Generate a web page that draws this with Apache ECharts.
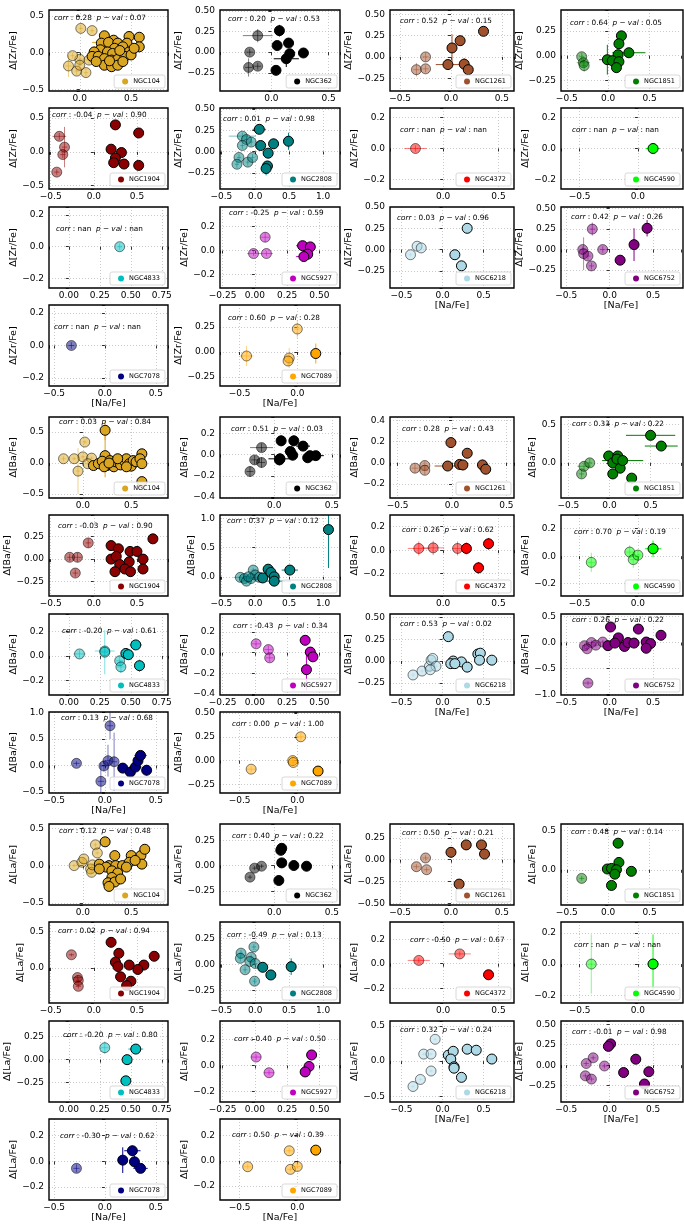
<!DOCTYPE html>
<html><head><meta charset="utf-8">
<script src="https://cdn.jsdelivr.net/npm/echarts@6.0.0/dist/echarts.min.js"></script>
<style>html,body{margin:0;padding:0;background:#fff}#c{width:684px;height:1229px}</style>
</head><body><div id="c"></div><script>
// ---------------- categories ----------------
const clusters = ['NGC104','NGC362','NGC1261','NGC1851','NGC1904','NGC2808','NGC4372','NGC4590','NGC4833','NGC5927','NGC6218','NGC6752','NGC7078','NGC7089'];
const clusterColors = ['#DAA520','#000000','#A0522D','#008000','#8B0000','#008080','#FF0000','#00FF00','#00BFBF','#BF00BF','#ADD8E6','#800080','#000080','#FFA500'];
const elementLabels = ['Δ[Zr/Fe]','Δ[Ba/Fe]','Δ[La/Fe]'];
const xLabel = '[Na/Fe]';

// ---------------- statistics text ----------------
const zrCorr = ['0.28','0.20','0.52','0.64','-0.04','0.01','nan','nan','nan','-0.25','0.03','0.42','nan','0.60'];
const zrPval = ['0.07','0.53','0.15','0.05','0.90','0.98','nan','nan','nan','0.59','0.96','0.26','nan','0.28'];
const baCorr = ['0.03','0.51','0.28','0.33','-0.03','0.37','0.26','0.70','-0.20','-0.43','0.53','0.26','0.13','0.00'];
const baPval = ['0.84','0.03','0.43','0.22','0.90','0.12','0.62','0.19','0.61','0.34','0.02','0.22','0.68','1.00'];
const laCorr = ['0.12','0.40','0.50','0.48','0.02','-0.49','-0.50','nan','-0.20','0.40','0.32','-0.01','-0.30','0.50'];
const laPval = ['0.48','0.22','0.21','0.14','0.94','0.13','0.67','nan','0.80','0.50','0.24','0.98','0.62','0.39'];

// ---------------- axis ranges and tick steps ----------------
const zrXlim = [[-0.30,0.86],[-0.45,0.60],[-0.60,0.62],[-0.57,0.88],[-0.52,0.86],[-0.52,1.25],[-0.48,0.64],[-0.66,0.37],[-0.16,0.80],[-0.27,0.66],[-0.64,0.87],[-0.56,0.82],[-0.55,0.62],[-0.67,0.37]];
const baXlim = [[-0.35,0.88],[-0.47,0.57],[-0.57,0.57],[-0.59,0.87],[-0.52,0.86],[-0.52,1.25],[-0.48,0.64],[-0.66,0.37],[-0.16,0.80],[-0.27,0.66],[-0.64,0.87],[-0.56,0.82],[-0.55,0.62],[-0.67,0.37]];
const laXlim = [[-0.35,0.88],[-0.47,0.57],[-0.60,0.62],[-0.57,0.88],[-0.52,0.86],[-0.52,1.25],[-0.48,0.64],[-0.66,0.37],[-0.16,0.80],[-0.27,0.66],[-0.64,0.87],[-0.56,0.82],[-0.55,0.62],[-0.67,0.37]];
const xStep = [0.5,0.5,0.5,0.5,0.5,0.5,0.5,0.5,0.25,0.25,0.5,0.5,0.5,0.5];
const zrYlim = [[-0.52,0.58],[-0.47,0.51],[-0.40,0.55],[-0.355,0.46],[-0.55,0.65],[-0.44,0.51],[-0.26,0.26],[-0.26,0.26],[-0.26,0.25],[-0.31,0.36],[-0.45,0.50],[-0.47,0.52],[-0.25,0.25],[-0.34,0.47]];
const zrYstep = [0.5,0.25,0.25,0.25,0.5,0.25,0.2,0.2,0.2,0.2,0.25,0.25,0.2,0.25];
const baYlim = [[-0.565,0.745],[-0.41,0.355],[-0.33,0.43],[-0.46,0.60],[-0.41,0.49],[-0.33,1.06],[-0.39,0.30],[-0.29,0.30],[-0.32,0.343],[-0.41,0.375],[-0.39,0.54],[-1.01,0.55],[-0.52,1.01],[-0.34,0.51]];
const baYstep = [0.5,0.2,0.2,0.5,0.25,0.5,0.2,0.2,0.2,0.2,0.25,0.5,0.5,0.25];
const laYlim = [[-0.53,0.56],[-0.39,0.41],[-0.52,0.41],[-0.45,0.585],[-0.477,0.627],[-0.37,0.41],[-0.32,0.34],[-0.25,0.27],[-0.46,0.42],[-0.28,0.34],[-0.58,0.57],[-0.45,0.54],[-0.30,0.33],[-0.31,0.33]];
const laYstep = [0.5,0.25,0.25,0.5,0.5,0.25,0.2,0.2,0.25,0.2,0.5,0.25,0.2,0.2];

// ---------------- data: [Na/Fe], delta, err Na, err delta ----------------
// a = first-generation (faded), b = second-generation (solid)
const zr104a = [[0.01,0.33,0.02,0.03],[0.12,0.30,0.02,0.03],[-0.11,-0.18,0.03,0.15],[-0.03,-0.25,0.02,0.05],[0.06,-0.27,0.02,0.05],[0.00,-0.09,0.03,0.08],[0.00,-0.17,0.02,0.06],[0.09,-0.10,0.03,0.05],[-0.07,-0.04,0.02,0.04]];
const zr104b = [[0.24,0.23,0.03,0.04],[0.48,0.22,0.04,0.05],[0.58,0.21,0.03,0.04],[0.58,0.08,0.03,0.04],[0.33,0.17,0.03,0.03],[0.21,0.13,0.03,0.03],[0.28,0.14,0.16,0.03],[0.37,0.13,0.03,0.03],[0.46,0.13,0.03,0.03],[0.34,0.06,0.03,0.03],[0.42,0.08,0.03,0.03],[0.20,0.04,0.03,0.03],[0.14,0.01,0.03,0.08],[0.27,0.01,0.03,0.03],[0.32,-0.01,0.03,0.03],[0.41,-0.01,0.03,0.03],[0.48,0.01,0.03,0.03],[0.12,-0.05,0.03,0.03],[0.18,-0.05,0.03,0.03],[0.24,-0.08,0.03,0.03],[0.31,-0.10,0.03,0.03],[0.37,-0.09,0.03,0.03],[0.44,-0.05,0.03,0.03],[0.50,-0.03,0.03,0.03],[0.24,-0.17,0.03,0.03],[0.31,-0.19,0.03,0.03],[0.37,-0.17,0.03,0.03],[0.29,-0.11,0.03,0.03],[0.16,-0.12,0.03,0.03],[0.42,-0.12,0.03,0.03],[0.53,0.06,0.03,0.03],[0.39,0.03,0.03,0.03]];
const zr362a = [[-0.12,0.20,0.13,0.08],[-0.19,0.00,0.03,0.04],[-0.20,-0.185,0.03,0.11],[-0.12,-0.17,0.03,0.04]];
const zr362b = [[0.07,0.26,0.03,0.07],[0.05,0.08,0.03,0.04],[0.15,0.11,0.03,0.04],[0.28,-0.01,0.04,0.04],[0.16,-0.02,0.03,0.04],[0.13,-0.08,0.11,0.10],[0.04,-0.22,0.03,0.04]];
const zr1261a = [[-0.34,-0.15,0.03,0.08],[-0.25,-0.14,0.03,0.04],[-0.25,0.00,0.03,0.05]];
const zr1261b = [[0.32,0.30,0.04,0.03],[0.09,0.19,0.03,0.04],[0.01,0.105,0.03,0.16],[-0.03,-0.09,0.12,0.04],[0.13,-0.085,0.03,0.07],[0.17,-0.15,0.03,0.04]];
const zr1851a = [[-0.32,-0.01,0.03,0.04],[-0.30,-0.07,0.08,0.04],[-0.29,-0.10,0.03,0.06]];
const zr1851b = [[0.16,0.20,0.03,0.04],[0.13,0.12,0.03,0.05],[0.25,0.03,0.20,0.05],[0.12,0.01,0.03,0.05],[-0.01,-0.04,0.10,0.15],[0.05,-0.05,0.03,0.04],[0.13,-0.06,0.03,0.04],[0.10,-0.12,0.03,0.04]];
const zr1904a = [[-0.40,0.23,0.08,0.05],[-0.34,0.07,0.03,0.30],[-0.36,-0.04,0.03,0.05],[-0.43,-0.30,0.03,0.04]];
const zr1904b = [[0.25,0.40,0.03,0.04],[0.52,0.28,0.03,0.04],[0.20,0.04,0.03,0.04],[0.32,-0.01,0.03,0.04],[0.25,-0.09,0.03,0.04],[0.23,-0.16,0.03,0.04],[0.35,-0.18,0.03,0.04],[0.52,-0.20,0.03,0.04]];
const zr2808a = [[-0.19,0.18,0.20,0.04],[-0.13,0.14,0.03,0.04],[-0.06,0.11,0.03,0.04],[-0.19,0.07,0.03,0.04],[-0.24,-0.07,0.03,0.04],[-0.27,-0.15,0.03,0.04],[-0.11,-0.125,0.03,0.04],[-0.04,-0.07,0.03,0.04]];
const zr2808b = [[0.06,0.26,0.10,0.04],[0.08,0.07,0.03,0.04],[0.27,0.09,0.05,0.06],[0.49,0.12,0.03,0.10],[0.19,-0.02,0.03,0.05],[0.18,-0.17,0.03,0.05],[0.16,-0.20,0.03,0.08]];
const zr4372a = [[-0.25,0.00,0.10,0.02]];
const zr4372b = [];
const zr4590a = [];
const zr4590b = [[0.13,0.00,0.06,0.02]];
const zr4833a = [[0.41,0.00,0.02,0.02]];
const zr4833b = [];
const zr5927a = [[0.08,0.11,0.03,0.04],[-0.01,-0.025,0.05,0.02],[0.09,-0.025,0.05,0.02]];
const zr5927b = [[0.37,0.04,0.05,0.03],[0.43,0.03,0.03,0.03],[0.41,-0.03,0.03,0.03],[0.38,-0.05,0.06,0.03]];
const zr6218a = [[-0.39,-0.06,0.02,0.02],[-0.31,0.04,0.02,0.02],[-0.26,0.02,0.02,0.02]];
const zr6218b = [[0.30,0.25,0.02,0.02],[0.15,-0.06,0.02,0.02],[0.23,-0.19,0.02,0.02]];
const zr6752a = [[-0.20,0.25,0.03,0.08],[-0.31,0.00,0.03,0.04],[-0.30,-0.05,0.03,0.20],[-0.25,-0.08,0.03,0.04],[-0.21,-0.20,0.03,0.04],[-0.08,0.00,0.03,0.04]];
const zr6752b = [[0.12,-0.13,0.03,0.03],[0.28,0.06,0.03,0.20],[0.43,0.26,0.03,0.10]];
const zr7078a = [[-0.33,0.00,0.03,0.02]];
const zr7078b = [];
const zr7089a = [[-0.44,-0.04,0.06,0.10],[0.00,0.23,0.03,0.09],[-0.07,-0.06,0.03,0.10],[-0.08,-0.09,0.03,0.05]];
const zr7089b = [[0.16,-0.015,0.03,0.10]];

const ba104a = [[0.02,0.34,0.02,0.03],[-0.20,0.07,0.02,0.04],[-0.05,-0.13,0.02,0.37],[0.00,0.10,0.02,0.03],[0.09,0.08,0.02,0.03],[0.05,-0.01,0.02,0.03],[-0.09,0.07,0.02,0.03]];
const ba104b = [[0.23,0.53,0.02,0.16],[0.23,0.12,0.02,0.35],[0.61,0.15,0.02,0.03],[0.61,-0.30,0.02,0.03],[0.11,-0.04,0.02,0.03],[0.16,-0.01,0.02,0.03],[0.20,0.03,0.02,0.03],[0.25,-0.04,0.02,0.03],[0.28,0.04,0.02,0.03],[0.32,-0.06,0.02,0.03],[0.34,0.02,0.02,0.03],[0.39,-0.03,0.02,0.03],[0.43,0.03,0.02,0.03],[0.45,0.07,0.02,0.03],[0.48,-0.01,0.02,0.03],[0.50,-0.05,0.02,0.03],[0.52,0.04,0.02,0.03],[0.55,0.02,0.02,0.03],[0.59,0.07,0.02,0.03],[0.61,-0.01,0.04,0.03],[0.22,-0.06,0.02,0.03],[0.36,0.07,0.02,0.03],[0.45,-0.06,0.02,0.03],[0.27,0.00,0.02,0.03]];
const ba362a = [[-0.11,0.066,0.10,0.04],[-0.17,-0.05,0.03,0.04],[-0.11,-0.075,0.03,0.05],[-0.21,-0.16,0.03,0.05]];
const ba362b = [[0.06,0.13,0.03,0.05],[0.17,0.13,0.03,0.05],[0.25,0.08,0.06,0.04],[0.14,0.03,0.05,0.04],[0.05,-0.04,0.10,0.05],[0.16,-0.006,0.03,0.04],[0.31,-0.01,0.03,0.04],[0.36,-0.01,0.07,0.04],[0.29,-0.03,0.03,0.04],[0.045,-0.05,0.03,0.05]];
const ba1261a = [[-0.34,-0.05,0.03,0.04],[-0.25,-0.025,0.03,0.04],[-0.25,-0.07,0.03,0.04]];
const ba1261b = [[-0.01,0.19,0.03,0.03],[0.14,0.09,0.03,0.04],[-0.04,-0.03,0.12,0.04],[0.07,-0.015,0.03,0.05],[0.10,-0.02,0.03,0.05],[0.28,-0.02,0.03,0.05],[0.31,-0.06,0.03,0.04]];
const ba1851a = [[-0.34,-0.145,0.03,0.05],[-0.31,-0.045,0.08,0.05],[-0.24,0.00,0.03,0.05]];
const ba1851b = [[0.50,0.36,0.30,0.05],[0.63,0.22,0.20,0.05],[-0.01,0.09,0.03,0.05],[0.04,0.00,0.03,0.05],[0.10,0.09,0.03,0.05],[0.13,-0.07,0.03,0.05],[0.04,-0.145,0.03,0.05],[0.27,-0.20,0.03,0.05],[0.09,0.05,0.03,0.05],[0.16,0.03,0.25,0.05]];
const ba1904a = [[-0.065,0.18,0.03,0.05],[-0.28,0.02,0.03,0.04],[-0.19,0.02,0.05,0.05],[-0.215,-0.155,0.03,0.04]];
const ba1904b = [[0.20,0.15,0.03,0.05],[0.285,0.115,0.03,0.05],[0.685,0.225,0.03,0.04],[0.20,0.00,0.03,0.05],[0.26,0.03,0.03,0.05],[0.42,0.085,0.03,0.05],[0.50,0.085,0.03,0.05],[0.57,0.00,0.03,0.05],[0.57,-0.11,0.03,0.05],[0.41,-0.03,0.03,0.05],[0.30,-0.06,0.03,0.05],[0.245,-0.14,0.03,0.05],[0.36,-0.11,0.03,0.05],[0.425,-0.14,0.03,0.05]];
const ba2808a = [[-0.22,-0.01,0.10,0.03],[-0.16,-0.03,0.03,0.04],[-0.13,-0.075,0.03,0.04],[-0.03,0.115,0.03,0.04],[-0.06,-0.03,0.03,0.04],[0.00,0.03,0.03,0.04],[0.06,-0.01,0.03,0.04],[-0.10,0.00,0.03,0.04]];
const ba2808b = [[1.08,0.81,0.03,0.66],[0.19,0.13,0.03,0.04],[0.23,0.075,0.03,0.04],[0.51,0.115,0.12,0.04],[0.11,-0.02,0.03,0.04],[0.28,0.00,0.03,0.04],[0.28,-0.075,0.25,0.04]];
const ba4372a = [[-0.22,0.015,0.10,0.06],[-0.09,0.02,0.10,0.06],[0.13,0.015,0.05,0.06]];
const ba4372b = [[0.21,0.015,0.03,0.05],[0.41,0.055,0.03,0.05],[0.32,-0.15,0.03,0.05]];
const ba4590a = [[-0.40,-0.045,0.03,0.07],[-0.07,0.03,0.03,0.05],[-0.04,-0.025,0.03,0.06],[0.00,0.008,0.03,0.03]];
const ba4590b = [[0.13,0.054,0.07,0.06]];
const ba4833a = [[0.086,0.016,0.05,0.03],[0.29,0.04,0.08,0.04],[0.29,0.03,0.03,0.18],[0.41,-0.04,0.03,0.04],[0.42,-0.09,0.03,0.05]];
const ba4833b = [[0.54,0.09,0.05,0.04],[0.46,0.02,0.03,0.04],[0.48,0.01,0.03,0.04],[0.57,-0.08,0.03,0.05]];
const ba5927a = [[0.01,0.086,0.03,0.03],[0.105,0.03,0.03,0.04],[0.115,-0.05,0.03,0.04]];
const ba5927b = [[0.39,0.12,0.03,0.03],[0.43,0.006,0.03,0.03],[0.45,-0.04,0.03,0.04],[0.40,-0.165,0.03,0.20]];
const ba6218a = [[-0.36,-0.16,0.02,0.02],[-0.25,-0.115,0.02,0.02],[-0.16,-0.06,0.02,0.02],[-0.14,0.01,0.02,0.02],[-0.12,0.03,0.02,0.02],[-0.08,-0.06,0.02,0.02],[-0.15,-0.10,0.02,0.02]];
const ba6218b = [[0.07,0.28,0.02,0.02],[0.13,0.00,0.02,0.02],[0.10,-0.03,0.02,0.02],[0.23,-0.01,0.02,0.02],[0.30,-0.07,0.02,0.02],[0.43,0.08,0.02,0.02],[0.46,0.09,0.02,0.02],[0.45,0.01,0.02,0.02],[0.60,0.01,0.02,0.02],[0.15,-0.03,0.02,0.02]];
const ba6752a = [[-0.29,-0.06,0.03,0.04],[-0.21,0.00,0.03,0.04],[-0.16,-0.05,0.03,0.04],[-0.08,0.01,0.03,0.04],[-0.26,-0.12,0.03,0.04],[-0.25,-0.78,0.05,0.04]];
const ba6752b = [[0.01,0.30,0.03,0.04],[0.33,0.26,0.03,0.04],[0.10,0.09,0.03,0.04],[-0.02,-0.06,0.03,0.04],[0.06,-0.01,0.08,0.04],[0.17,-0.075,0.03,0.04],[0.21,0.00,0.03,0.04],[0.42,0.01,0.03,0.04],[0.47,-0.02,0.03,0.04],[0.42,-0.11,0.03,0.04],[0.59,0.14,0.03,0.04],[0.28,-0.01,0.03,0.04]];
const ba7078a = [[-0.28,0.04,0.03,0.04],[0.05,0.75,0.03,0.25],[-0.01,-0.01,0.03,0.10],[0.03,0.09,0.03,0.30],[0.09,0.07,0.03,0.55],[-0.04,-0.30,0.03,0.35]];
const ba7078b = [[0.175,-0.05,0.03,0.05],[0.25,-0.125,0.03,0.05],[0.30,-0.03,0.06,0.05],[0.325,0.09,0.03,0.05],[0.35,0.19,0.06,0.05],[0.41,-0.09,0.03,0.10]];
const ba7089a = [[-0.40,-0.09,0.04,0.03],[0.03,0.25,0.03,0.04],[-0.04,0.00,0.03,0.05],[-0.035,-0.02,0.05,0.04]];
const ba7089b = [[0.18,-0.11,0.03,0.04]];

const la104a = [[-0.09,0.00,0.02,0.02],[-0.01,0.045,0.02,0.02],[0.01,0.09,0.02,0.02],[0.13,0.28,0.02,0.03],[0.15,0.17,0.02,0.02],[0.08,-0.045,0.02,0.02],[0.09,-0.09,0.02,0.02],[0.10,0.01,0.02,0.02]];
const la104b = [[0.23,0.32,0.02,0.05],[0.33,0.135,0.02,0.02],[0.17,0.02,0.02,0.02],[0.27,0.00,0.02,0.02],[0.34,0.00,0.02,0.02],[0.41,0.00,0.02,0.02],[0.50,0.135,0.02,0.02],[0.60,0.135,0.02,0.02],[0.64,0.22,0.02,0.02],[0.61,0.02,0.02,0.02],[0.48,0.045,0.02,0.02],[0.54,0.07,0.02,0.02],[0.24,-0.02,0.02,0.02],[0.30,-0.07,0.02,0.02],[0.36,-0.10,0.02,0.02],[0.45,-0.02,0.02,0.02],[0.30,-0.16,0.02,0.02],[0.26,-0.23,0.02,0.02],[0.33,-0.22,0.02,0.02],[0.39,-0.18,0.02,0.02],[0.27,-0.28,0.02,0.02],[0.17,-0.045,0.02,0.02]];
const la362a = [[-0.21,-0.115,0.02,0.02],[-0.17,-0.026,0.02,0.02],[-0.11,-0.007,0.02,0.02]];
const la362b = [[0.065,0.17,0.03,0.02],[0.057,0.15,0.03,0.02],[0.065,0.026,0.03,0.02],[0.17,0.00,0.03,0.02],[0.28,-0.007,0.03,0.02],[0.04,-0.148,0.03,0.02]];
const la1261a = [[-0.34,-0.08,0.03,0.03],[-0.25,0.02,0.03,0.03],[-0.24,-0.115,0.03,0.03]];
const la1261b = [[0.00,0.085,0.02,0.02],[0.15,0.17,0.02,0.02],[0.30,0.17,0.02,0.02],[0.33,0.065,0.02,0.02],[0.08,-0.28,0.02,0.02]];
const la1851a = [[-0.32,-0.11,0.03,0.03]];
const la1851b = [[0.12,0.34,0.02,0.03],[0.13,0.094,0.02,0.03],[-0.01,0.01,0.02,0.02],[0.04,0.017,0.02,0.02],[0.10,0.00,0.02,0.02],[0.08,-0.056,0.02,0.02],[0.04,-0.20,0.02,0.02],[0.28,-0.02,0.02,0.02]];
const la1904a = [[-0.26,0.18,0.03,0.02],[-0.19,-0.13,0.05,0.03],[-0.18,-0.17,0.03,0.03],[-0.18,-0.25,0.03,0.03]];
const la1904b = [[0.20,0.35,0.02,0.03],[0.29,0.20,0.02,0.05],[0.25,0.08,0.02,0.03],[0.28,0.02,0.02,0.03],[0.41,0.04,0.02,0.05],[0.58,0.04,0.02,0.05],[0.70,0.16,0.02,0.03],[0.51,-0.02,0.02,0.03],[0.31,-0.12,0.02,0.03],[0.43,-0.18,0.02,0.05],[0.38,-0.24,0.02,0.03]];
const la2808a = [[-0.21,0.11,0.03,0.03],[-0.22,0.06,0.03,0.03],[-0.02,0.17,0.03,0.03],[-0.06,0.07,0.03,0.03],[-0.08,0.03,0.03,0.03],[0.00,0.01,0.03,0.03],[-0.15,-0.05,0.03,0.03],[-0.01,-0.16,0.03,0.03]];
const la2808b = [[0.11,-0.026,0.03,0.03],[0.23,-0.10,0.03,0.03],[0.53,-0.02,0.03,0.08]];
const la4372a = [[-0.22,0.027,0.10,0.02],[0.15,0.08,0.10,0.02]];
const la4372b = [[0.41,-0.09,0.02,0.02]];
const la4590a = [[-0.40,0.00,0.02,0.19]];
const la4590b = [[0.13,0.00,0.05,0.19]];
const la4833a = [[0.29,0.13,0.03,0.07]];
const la4833b = [[0.54,0.115,0.06,0.03],[0.47,0.00,0.03,0.03],[0.46,-0.23,0.03,0.03]];
const la5927a = [[0.01,0.064,0.04,0.02],[0.11,-0.056,0.04,0.02]];
const la5927b = [[0.44,0.08,0.03,0.03],[0.42,-0.008,0.03,0.03],[0.39,-0.05,0.03,0.03]];
const la6218a = [[-0.36,-0.36,0.02,0.02],[-0.27,-0.26,0.02,0.02],[-0.14,-0.14,0.02,0.02],[-0.23,0.10,0.02,0.02],[-0.14,0.10,0.02,0.02],[-0.09,0.31,0.02,0.02]];
const la6218b = [[0.07,0.085,0.02,0.02],[0.13,0.14,0.02,0.02],[0.10,0.03,0.02,0.02],[0.14,-0.08,0.02,0.02],[0.14,-0.10,0.02,0.02],[0.23,-0.23,0.02,0.02],[0.30,0.17,0.02,0.02],[0.41,0.155,0.02,0.02],[0.60,0.03,0.02,0.02]];
const la6752a = [[-0.19,0.09,0.03,0.03],[-0.27,0.02,0.03,0.03],[-0.28,-0.13,0.03,0.03],[-0.21,-0.17,0.03,0.03],[-0.06,-0.01,0.03,0.03]];
const la6752b = [[0.01,0.26,0.03,0.04],[-0.015,0.23,0.03,0.03],[0.30,0.073,0.03,0.03],[0.16,-0.09,0.03,0.03],[0.45,-0.08,0.03,0.03],[0.40,-0.23,0.03,0.03]];
const la7078a = [[-0.28,-0.054,0.03,0.03]];
const la7078b = [[0.27,0.083,0.08,0.04],[0.175,0.01,0.03,0.10],[0.29,-0.003,0.04,0.05],[0.35,-0.054,0.07,0.03]];
const la7089a = [[-0.43,-0.047,0.03,0.02],[-0.07,0.079,0.03,0.02],[-0.06,-0.068,0.03,0.02],[0.00,-0.045,0.03,0.02]];
const la7089b = [[0.16,0.084,0.03,0.02]];

const zrFirst = [zr104a,zr362a,zr1261a,zr1851a,zr1904a,zr2808a,zr4372a,zr4590a,zr4833a,zr5927a,zr6218a,zr6752a,zr7078a,zr7089a];
const zrSecond = [zr104b,zr362b,zr1261b,zr1851b,zr1904b,zr2808b,zr4372b,zr4590b,zr4833b,zr5927b,zr6218b,zr6752b,zr7078b,zr7089b];
const baFirst = [ba104a,ba362a,ba1261a,ba1851a,ba1904a,ba2808a,ba4372a,ba4590a,ba4833a,ba5927a,ba6218a,ba6752a,ba7078a,ba7089a];
const baSecond = [ba104b,ba362b,ba1261b,ba1851b,ba1904b,ba2808b,ba4372b,ba4590b,ba4833b,ba5927b,ba6218b,ba6752b,ba7078b,ba7089b];
const laFirst = [la104a,la362a,la1261a,la1851a,la1904a,la2808a,la4372a,la4590a,la4833a,la5927a,la6218a,la6752a,la7078a,la7089a];
const laSecond = [la104b,la362b,la1261b,la1851b,la1904b,la2808b,la4372b,la4590b,la4833b,la5927b,la6218b,la6752b,la7078b,la7089b];

// ---------------- layout (pixels) ----------------
const W = 684, H = 1229;
const colLeft = [49, 220, 390, 561];
const colWidth = [119, 120, 124, 122];
const rowTop = [10, 108, 207, 305];
const groupOffset = [0, 407, 814];
const boxH = 81;
const zrTextPos = [[5,5],[8,6],[10,8],[9,10],[3,4],[3,8],[10,19],[11,19],[7,19],[9,3],[7,8],[10,7],[5,19],[8,10]];
const baTextPos = [[10,2],[11,9],[12,9],[11,4],[9,8],[7,3],[12,12],[13,14],[13,14],[13,9],[10,7],[11,3],[12,3],[12,9]];
const laTextPos = [[10,4],[12,9],[12,6],[10,5],[9,6],[7,10],[20,15],[13,20],[14,11],[14,15],[10,6],[11,8],[11,14],[12,13]];
const FONT = 'DejaVu Sans';

const groups = [
  {label: elementLabels[0], corr: zrCorr, pval: zrPval, xlim: zrXlim, ylim: zrYlim, ystep: zrYstep, tpos: zrTextPos, first: zrFirst, second: zrSecond},
  {label: elementLabels[1], corr: baCorr, pval: baPval, xlim: baXlim, ylim: baYlim, ystep: baYstep, tpos: baTextPos, first: baFirst, second: baSecond},
  {label: elementLabels[2], corr: laCorr, pval: laPval, xlim: laXlim, ylim: laYlim, ystep: laYstep, tpos: laTextPos, first: laFirst, second: laSecond}
];

function tickText(v, step) {
  const k = v / step;
  if (Math.abs(k - Math.round(k)) > 1e-6) return '';
  const dec = Math.abs(step - 0.25) < 1e-9 ? 2 : 1;
  let s = (Math.round(k) * step).toFixed(dec);
  if (/^-0\.0+$/.test(s)) s = s.slice(1);
  return s.replace('-', '\u2212');
}
const mctx = document.createElement('canvas').getContext('2d');
mctx.font = '9px "' + FONT + '"';
function maxLabelWidth(lim, step) {
  let w = 0;
  for (let k = Math.ceil(lim[0] / step - 1e-9); k * step <= lim[1] + 1e-9; k++) {
    w = Math.max(w, mctx.measureText(tickText(k * step, step)).width);
  }
  return w;
}
function errRender(color, opacity) {
  return function (params, api) {
    const x = api.value(0), y = api.value(1), ex = api.value(2), ey = api.value(3);
    const cs = params.coordSys;
    const cx = v => Math.max(cs.x, Math.min(cs.x + cs.width, v));
    const cy = v => Math.max(cs.y, Math.min(cs.y + cs.height, v));
    const p = api.coord([x, y]);
    const l = api.coord([x - ex, y]), r = api.coord([x + ex, y]);
    const t = api.coord([x, y + ey]), b = api.coord([x, y - ey]);
    const st = {stroke: color, lineWidth: 1, opacity: opacity};
    return {type: 'group', children: [
      {type: 'line', shape: {x1: cx(l[0]), y1: p[1], x2: cx(r[0]), y2: p[1]}, style: st},
      {type: 'line', shape: {x1: p[0], y1: cy(t[1]), x2: p[0], y2: cy(b[1])}, style: st}
    ]};
  };
}

const grid = [], xAxis = [], yAxis = [], series = [], legend = [], graphic = [];
groups.forEach((G, g) => {
  for (let i = 0; i < 14; i++) {
    const idx = g * 14 + i, r = Math.floor(i / 4), c = i % 4;
    const left = colLeft[c], top = groupOffset[g] + rowTop[r], width = colWidth[c];
    const color = clusterColors[i], name = clusters[i];
    grid.push({left: left, top: top, width: width, height: boxH, show: true, backgroundColor: '#fff', borderWidth: 0});
    const showX = (i >= 10);
    const xs = xStep[i], ys = G.ystep[i];
    const split = {show: true, showMinLine: false, showMaxLine: false, lineStyle: {type: [1, 2], color: '#bdbdbd', width: 0.8}};
    xAxis.push({
      gridIndex: idx, type: 'value', min: G.xlim[i][0], max: G.xlim[i][1],
      minInterval: xs, maxInterval: xs, splitNumber: 3,
      axisLine: {show: false},
      axisTick: {show: true, length: 3, lineStyle: {color: '#000', width: 0.8}},
      axisLabel: {show: true, margin: 3, fontSize: 9, color: '#000', fontFamily: FONT, showMinLabel: true, showMaxLabel: true, formatter: v => tickText(v, xs)},
      splitLine: split,
      name: showX ? xLabel : '', nameLocation: 'middle', nameGap: 13,
      nameTextStyle: {fontSize: 9.5, fontFamily: FONT, color: '#000', verticalAlign: 'top'}
    });
    const lw = maxLabelWidth(G.ylim[i], ys);
    yAxis.push({
      gridIndex: idx, type: 'value', min: G.ylim[i][0], max: G.ylim[i][1],
      minInterval: ys, maxInterval: ys, splitNumber: 4,
      axisLine: {show: false},
      axisTick: {show: true, length: 3, lineStyle: {color: '#000', width: 0.8}},
      axisLabel: {show: true, margin: 5, fontSize: 9, color: '#000', fontFamily: FONT, showMinLabel: true, showMaxLabel: true, formatter: v => tickText(v, ys)},
      splitLine: split,
      name: G.label, nameLocation: 'middle', nameRotate: 90, nameGap: 5 + lw + 3,
      nameTextStyle: {fontSize: 9.5, fontFamily: FONT, color: '#000'}
    });
    series.push({type: 'custom', name: name + ' err1', xAxisIndex: idx, yAxisIndex: idx, data: G.first[i], renderItem: errRender(color, 0.5), z: 2, silent: true});
    series.push({type: 'scatter', name: name + ' 1G', xAxisIndex: idx, yAxisIndex: idx, data: G.first[i], symbol: 'circle', symbolSize: 10, z: 3, silent: true,
      itemStyle: {color: color, borderColor: '#000', borderWidth: 1, opacity: 0.5}});
    series.push({type: 'custom', name: name + ' err2', xAxisIndex: idx, yAxisIndex: idx, data: G.second[i], renderItem: errRender(color, 1), z: 4, silent: true});
    series.push({type: 'scatter', name: name, xAxisIndex: idx, yAxisIndex: idx, data: G.second[i], symbol: 'circle', symbolSize: 10, z: 5, silent: true,
      itemStyle: {color: color, borderColor: '#000', borderWidth: 1, opacity: 1}});
    legend.push({
      data: [{name: name, icon: 'circle'}], selectedMode: false,
      right: W - (left + width) + 3, bottom: H - (top + boxH) + 3,
      itemWidth: 6, itemHeight: 6, itemGap: 0, padding: [3, 5, 3, 8],
      textStyle: {fontSize: 6.5, fontFamily: FONT, color: '#000'},
      itemStyle: {borderWidth: 0, opacity: 1},
      borderColor: '#cfcfcf', borderWidth: 0.8, borderRadius: 2, backgroundColor: 'rgba(255,255,255,0.85)', z: 60
    });
    const tp = G.tpos[i];
    graphic.push({
      type: 'text', left: left + tp[0], top: top + tp[1], z: 70, silent: true,
      style: {
        text: '{i|corr} : ' + G.corr[i] + '  {i|p} \u2212 {i|val} : ' + G.pval[i],
        fontSize: 7.3, fontFamily: FONT, fill: '#000',
        rich: {i: {fontStyle: 'italic', fontSize: 7.3, fontFamily: FONT, fill: '#000'}}
      }
    });
    graphic.push({
      type: 'rect', z: 65, silent: true,
      shape: {x: left, y: top, width: width, height: boxH},
      style: {fill: null, stroke: '#000', lineWidth: 1.4}
    });
  }
});

const chart = echarts.init(document.getElementById('c'), null, {renderer: 'canvas', width: W, height: H});
chart.setOption({
  animation: false, backgroundColor: '#fff',
  grid: grid, xAxis: xAxis, yAxis: yAxis, series: series, legend: legend, graphic: graphic
});
</script></body></html>
